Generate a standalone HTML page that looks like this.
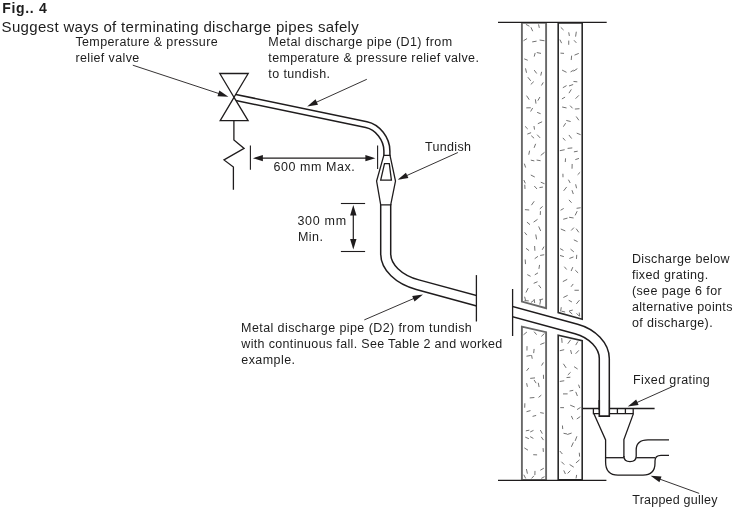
<!DOCTYPE html>
<html><head><meta charset="utf-8"><style>
html,body{margin:0;padding:0;background:#fff;}
svg{display:block;}
text{font-family:"Liberation Sans",sans-serif;fill:#1f1c1d;}
.tx{filter:grayscale(1)}
</style></head><body>
<svg width="734" height="509" viewBox="0 0 734 509">
<g>
<line x1="525.91" y1="24.40" x2="529.45" y2="26.22" stroke="#4e4e4e" stroke-width="0.8"/>
<line x1="530.93" y1="27.27" x2="532.69" y2="31.19" stroke="#4e4e4e" stroke-width="0.8"/>
<line x1="538.57" y1="24.40" x2="539.31" y2="27.88" stroke="#4e4e4e" stroke-width="0.8"/>
<line x1="527.04" y1="38.59" x2="523.50" y2="40.73" stroke="#4e4e4e" stroke-width="0.8"/>
<line x1="536.57" y1="41.17" x2="532.19" y2="41.90" stroke="#4e4e4e" stroke-width="0.8"/>
<line x1="539.59" y1="40.02" x2="544.50" y2="40.74" stroke="#4e4e4e" stroke-width="0.8"/>
<line x1="524.25" y1="58.89" x2="527.72" y2="60.24" stroke="#4e4e4e" stroke-width="0.8"/>
<line x1="535.17" y1="52.95" x2="534.21" y2="56.60" stroke="#4e4e4e" stroke-width="0.8"/>
<line x1="536.77" y1="52.55" x2="541.01" y2="53.40" stroke="#4e4e4e" stroke-width="0.8"/>
<line x1="525.50" y1="68.37" x2="526.52" y2="72.78" stroke="#4e4e4e" stroke-width="0.8"/>
<line x1="534.23" y1="70.11" x2="536.69" y2="73.49" stroke="#4e4e4e" stroke-width="0.8"/>
<line x1="541.64" y1="71.82" x2="540.74" y2="75.58" stroke="#4e4e4e" stroke-width="0.8"/>
<line x1="527.89" y1="77.22" x2="530.73" y2="80.83" stroke="#4e4e4e" stroke-width="0.8"/>
<line x1="533.77" y1="81.60" x2="530.79" y2="84.46" stroke="#4e4e4e" stroke-width="0.8"/>
<line x1="543.27" y1="82.40" x2="541.48" y2="85.48" stroke="#4e4e4e" stroke-width="0.8"/>
<line x1="526.57" y1="95.66" x2="529.23" y2="99.68" stroke="#4e4e4e" stroke-width="0.8"/>
<line x1="535.38" y1="99.29" x2="535.98" y2="103.62" stroke="#4e4e4e" stroke-width="0.8"/>
<line x1="539.93" y1="96.99" x2="537.86" y2="100.66" stroke="#4e4e4e" stroke-width="0.8"/>
<line x1="530.76" y1="107.78" x2="526.29" y2="107.87" stroke="#4e4e4e" stroke-width="0.8"/>
<line x1="532.67" y1="107.98" x2="530.61" y2="111.50" stroke="#4e4e4e" stroke-width="0.8"/>
<line x1="537.13" y1="112.37" x2="540.64" y2="113.72" stroke="#4e4e4e" stroke-width="0.8"/>
<line x1="525.08" y1="126.37" x2="527.71" y2="128.96" stroke="#4e4e4e" stroke-width="0.8"/>
<line x1="533.96" y1="126.00" x2="534.53" y2="129.58" stroke="#4e4e4e" stroke-width="0.8"/>
<line x1="542.12" y1="121.76" x2="537.82" y2="123.72" stroke="#4e4e4e" stroke-width="0.8"/>
<line x1="531.08" y1="132.66" x2="527.31" y2="134.10" stroke="#4e4e4e" stroke-width="0.8"/>
<line x1="531.28" y1="135.73" x2="534.09" y2="138.24" stroke="#4e4e4e" stroke-width="0.8"/>
<line x1="537.13" y1="134.66" x2="540.10" y2="137.89" stroke="#4e4e4e" stroke-width="0.8"/>
<line x1="529.59" y1="150.72" x2="528.76" y2="154.69" stroke="#4e4e4e" stroke-width="0.8"/>
<line x1="535.64" y1="143.84" x2="534.10" y2="147.83" stroke="#4e4e4e" stroke-width="0.8"/>
<line x1="544.50" y1="152.32" x2="540.76" y2="155.41" stroke="#4e4e4e" stroke-width="0.8"/>
<line x1="524.33" y1="163.66" x2="525.61" y2="167.54" stroke="#4e4e4e" stroke-width="0.8"/>
<line x1="530.80" y1="160.13" x2="534.32" y2="160.88" stroke="#4e4e4e" stroke-width="0.8"/>
<line x1="536.62" y1="160.05" x2="540.57" y2="160.71" stroke="#4e4e4e" stroke-width="0.8"/>
<line x1="523.83" y1="180.03" x2="525.34" y2="183.35" stroke="#4e4e4e" stroke-width="0.8"/>
<line x1="530.80" y1="175.01" x2="534.75" y2="177.00" stroke="#4e4e4e" stroke-width="0.8"/>
<line x1="540.75" y1="182.21" x2="544.50" y2="183.74" stroke="#4e4e4e" stroke-width="0.8"/>
<line x1="524.78" y1="184.76" x2="524.99" y2="188.95" stroke="#4e4e4e" stroke-width="0.8"/>
<line x1="534.27" y1="186.01" x2="536.98" y2="188.98" stroke="#4e4e4e" stroke-width="0.8"/>
<line x1="542.95" y1="187.06" x2="539.46" y2="187.60" stroke="#4e4e4e" stroke-width="0.8"/>
<line x1="524.92" y1="209.63" x2="529.22" y2="210.00" stroke="#4e4e4e" stroke-width="0.8"/>
<line x1="534.20" y1="201.25" x2="531.43" y2="205.17" stroke="#4e4e4e" stroke-width="0.8"/>
<line x1="542.64" y1="206.43" x2="539.81" y2="208.90" stroke="#4e4e4e" stroke-width="0.8"/>
<line x1="526.95" y1="222.10" x2="530.00" y2="224.67" stroke="#4e4e4e" stroke-width="0.8"/>
<line x1="537.53" y1="219.37" x2="533.62" y2="222.11" stroke="#4e4e4e" stroke-width="0.8"/>
<line x1="540.46" y1="211.15" x2="540.25" y2="214.98" stroke="#4e4e4e" stroke-width="0.8"/>
<line x1="524.61" y1="232.37" x2="526.87" y2="235.09" stroke="#4e4e4e" stroke-width="0.8"/>
<line x1="535.75" y1="234.49" x2="536.57" y2="239.35" stroke="#4e4e4e" stroke-width="0.8"/>
<line x1="538.67" y1="226.45" x2="540.70" y2="230.95" stroke="#4e4e4e" stroke-width="0.8"/>
<line x1="526.03" y1="248.34" x2="529.07" y2="250.61" stroke="#4e4e4e" stroke-width="0.8"/>
<line x1="534.60" y1="246.01" x2="534.91" y2="250.76" stroke="#4e4e4e" stroke-width="0.8"/>
<line x1="543.97" y1="246.61" x2="542.22" y2="249.79" stroke="#4e4e4e" stroke-width="0.8"/>
<line x1="525.18" y1="259.47" x2="525.50" y2="264.08" stroke="#4e4e4e" stroke-width="0.8"/>
<line x1="537.95" y1="256.35" x2="534.71" y2="258.70" stroke="#4e4e4e" stroke-width="0.8"/>
<line x1="544.20" y1="254.74" x2="540.16" y2="255.43" stroke="#4e4e4e" stroke-width="0.8"/>
<line x1="527.29" y1="274.62" x2="530.58" y2="276.30" stroke="#4e4e4e" stroke-width="0.8"/>
<line x1="537.97" y1="272.88" x2="534.79" y2="274.81" stroke="#4e4e4e" stroke-width="0.8"/>
<line x1="539.55" y1="264.91" x2="538.93" y2="268.89" stroke="#4e4e4e" stroke-width="0.8"/>
<line x1="528.19" y1="288.12" x2="525.94" y2="292.54" stroke="#4e4e4e" stroke-width="0.8"/>
<line x1="537.52" y1="281.72" x2="533.70" y2="283.34" stroke="#4e4e4e" stroke-width="0.8"/>
<line x1="538.61" y1="285.04" x2="540.96" y2="288.13" stroke="#4e4e4e" stroke-width="0.8"/>
<line x1="524.62" y1="296.72" x2="525.60" y2="300.48" stroke="#4e4e4e" stroke-width="0.8"/>
<line x1="534.15" y1="299.04" x2="534.68" y2="303.04" stroke="#4e4e4e" stroke-width="0.8"/>
<line x1="543.07" y1="298.97" x2="539.08" y2="300.02" stroke="#4e4e4e" stroke-width="0.8"/>
<line x1="524.50" y1="300.65" x2="528.78" y2="300.90" stroke="#4e4e4e" stroke-width="0.8"/>
<line x1="533.79" y1="300.41" x2="530.96" y2="302.48" stroke="#4e4e4e" stroke-width="0.8"/>
<line x1="540.61" y1="300.12" x2="539.80" y2="304.63" stroke="#4e4e4e" stroke-width="0.8"/>
<line x1="526.88" y1="332.04" x2="523.50" y2="334.76" stroke="#4e4e4e" stroke-width="0.8"/>
<line x1="534.10" y1="331.69" x2="536.60" y2="334.65" stroke="#4e4e4e" stroke-width="0.8"/>
<line x1="544.50" y1="333.43" x2="541.33" y2="336.41" stroke="#4e4e4e" stroke-width="0.8"/>
<line x1="527.03" y1="346.12" x2="526.95" y2="350.54" stroke="#4e4e4e" stroke-width="0.8"/>
<line x1="534.11" y1="348.94" x2="533.67" y2="353.10" stroke="#4e4e4e" stroke-width="0.8"/>
<line x1="544.50" y1="342.79" x2="540.29" y2="344.51" stroke="#4e4e4e" stroke-width="0.8"/>
<line x1="530.75" y1="355.45" x2="526.48" y2="356.22" stroke="#4e4e4e" stroke-width="0.8"/>
<line x1="531.55" y1="355.14" x2="532.22" y2="358.76" stroke="#4e4e4e" stroke-width="0.8"/>
<line x1="543.39" y1="362.48" x2="541.56" y2="365.59" stroke="#4e4e4e" stroke-width="0.8"/>
<line x1="528.90" y1="367.94" x2="526.55" y2="370.85" stroke="#4e4e4e" stroke-width="0.8"/>
<line x1="535.01" y1="377.89" x2="530.21" y2="378.38" stroke="#4e4e4e" stroke-width="0.8"/>
<line x1="543.41" y1="374.79" x2="543.57" y2="378.89" stroke="#4e4e4e" stroke-width="0.8"/>
<line x1="526.61" y1="383.18" x2="527.41" y2="386.84" stroke="#4e4e4e" stroke-width="0.8"/>
<line x1="534.08" y1="379.96" x2="536.12" y2="383.16" stroke="#4e4e4e" stroke-width="0.8"/>
<line x1="538.28" y1="382.80" x2="539.09" y2="387.06" stroke="#4e4e4e" stroke-width="0.8"/>
<line x1="524.86" y1="403.27" x2="524.69" y2="407.71" stroke="#4e4e4e" stroke-width="0.8"/>
<line x1="534.38" y1="397.51" x2="529.71" y2="397.93" stroke="#4e4e4e" stroke-width="0.8"/>
<line x1="541.30" y1="395.11" x2="538.56" y2="397.39" stroke="#4e4e4e" stroke-width="0.8"/>
<line x1="530.50" y1="410.58" x2="526.52" y2="411.71" stroke="#4e4e4e" stroke-width="0.8"/>
<line x1="536.15" y1="415.45" x2="532.55" y2="416.38" stroke="#4e4e4e" stroke-width="0.8"/>
<line x1="540.21" y1="412.62" x2="543.79" y2="413.27" stroke="#4e4e4e" stroke-width="0.8"/>
<line x1="529.37" y1="430.16" x2="525.83" y2="430.85" stroke="#4e4e4e" stroke-width="0.8"/>
<line x1="533.49" y1="430.38" x2="530.23" y2="431.96" stroke="#4e4e4e" stroke-width="0.8"/>
<line x1="540.32" y1="430.03" x2="542.34" y2="433.69" stroke="#4e4e4e" stroke-width="0.8"/>
<line x1="525.27" y1="437.15" x2="528.86" y2="438.70" stroke="#4e4e4e" stroke-width="0.8"/>
<line x1="530.17" y1="436.64" x2="533.38" y2="438.42" stroke="#4e4e4e" stroke-width="0.8"/>
<line x1="541.21" y1="436.86" x2="543.49" y2="440.10" stroke="#4e4e4e" stroke-width="0.8"/>
<line x1="524.37" y1="447.92" x2="527.98" y2="450.17" stroke="#4e4e4e" stroke-width="0.8"/>
<line x1="533.22" y1="454.71" x2="537.09" y2="454.89" stroke="#4e4e4e" stroke-width="0.8"/>
<line x1="543.07" y1="448.11" x2="543.37" y2="451.88" stroke="#4e4e4e" stroke-width="0.8"/>
<line x1="526.41" y1="469.05" x2="527.41" y2="473.67" stroke="#4e4e4e" stroke-width="0.8"/>
<line x1="534.97" y1="470.92" x2="534.89" y2="475.00" stroke="#4e4e4e" stroke-width="0.8"/>
<line x1="543.82" y1="468.21" x2="540.35" y2="470.23" stroke="#4e4e4e" stroke-width="0.8"/>
<line x1="523.78" y1="474.76" x2="525.68" y2="478.40" stroke="#4e4e4e" stroke-width="0.8"/>
<line x1="534.03" y1="475.78" x2="531.55" y2="478.40" stroke="#4e4e4e" stroke-width="0.8"/>
<line x1="544.49" y1="476.67" x2="541.31" y2="478.40" stroke="#4e4e4e" stroke-width="0.8"/>
<line x1="560.77" y1="27.36" x2="563.61" y2="30.06" stroke="#4e4e4e" stroke-width="0.8"/>
<line x1="568.72" y1="32.30" x2="569.36" y2="35.98" stroke="#4e4e4e" stroke-width="0.8"/>
<line x1="576.31" y1="31.73" x2="575.58" y2="36.63" stroke="#4e4e4e" stroke-width="0.8"/>
<line x1="559.89" y1="39.59" x2="561.62" y2="43.16" stroke="#4e4e4e" stroke-width="0.8"/>
<line x1="568.75" y1="40.60" x2="568.72" y2="44.81" stroke="#4e4e4e" stroke-width="0.8"/>
<line x1="574.01" y1="40.27" x2="576.37" y2="42.86" stroke="#4e4e4e" stroke-width="0.8"/>
<line x1="560.46" y1="53.14" x2="564.02" y2="53.39" stroke="#4e4e4e" stroke-width="0.8"/>
<line x1="571.63" y1="55.67" x2="571.23" y2="60.03" stroke="#4e4e4e" stroke-width="0.8"/>
<line x1="578.78" y1="53.42" x2="574.53" y2="55.12" stroke="#4e4e4e" stroke-width="0.8"/>
<line x1="562.08" y1="70.07" x2="566.52" y2="72.32" stroke="#4e4e4e" stroke-width="0.8"/>
<line x1="573.67" y1="70.14" x2="570.57" y2="71.91" stroke="#4e4e4e" stroke-width="0.8"/>
<line x1="577.34" y1="68.63" x2="573.52" y2="71.19" stroke="#4e4e4e" stroke-width="0.8"/>
<line x1="566.54" y1="85.62" x2="562.84" y2="87.73" stroke="#4e4e4e" stroke-width="0.8"/>
<line x1="573.16" y1="84.52" x2="569.03" y2="85.96" stroke="#4e4e4e" stroke-width="0.8"/>
<line x1="573.49" y1="81.46" x2="577.32" y2="81.83" stroke="#4e4e4e" stroke-width="0.8"/>
<line x1="565.08" y1="97.13" x2="561.90" y2="98.93" stroke="#4e4e4e" stroke-width="0.8"/>
<line x1="571.34" y1="89.41" x2="568.95" y2="93.16" stroke="#4e4e4e" stroke-width="0.8"/>
<line x1="578.87" y1="95.36" x2="575.56" y2="98.70" stroke="#4e4e4e" stroke-width="0.8"/>
<line x1="562.16" y1="107.01" x2="566.56" y2="107.94" stroke="#4e4e4e" stroke-width="0.8"/>
<line x1="570.11" y1="105.63" x2="572.54" y2="108.30" stroke="#4e4e4e" stroke-width="0.8"/>
<line x1="579.47" y1="108.71" x2="574.87" y2="109.06" stroke="#4e4e4e" stroke-width="0.8"/>
<line x1="565.66" y1="123.15" x2="563.36" y2="126.68" stroke="#4e4e4e" stroke-width="0.8"/>
<line x1="566.31" y1="120.45" x2="570.64" y2="121.53" stroke="#4e4e4e" stroke-width="0.8"/>
<line x1="576.20" y1="116.50" x2="578.86" y2="120.27" stroke="#4e4e4e" stroke-width="0.8"/>
<line x1="562.85" y1="137.88" x2="565.24" y2="140.57" stroke="#4e4e4e" stroke-width="0.8"/>
<line x1="568.90" y1="134.98" x2="571.66" y2="138.56" stroke="#4e4e4e" stroke-width="0.8"/>
<line x1="576.69" y1="133.14" x2="580.60" y2="134.67" stroke="#4e4e4e" stroke-width="0.8"/>
<line x1="564.67" y1="149.71" x2="559.80" y2="150.70" stroke="#4e4e4e" stroke-width="0.8"/>
<line x1="572.31" y1="147.91" x2="567.60" y2="148.39" stroke="#4e4e4e" stroke-width="0.8"/>
<line x1="577.66" y1="151.21" x2="573.90" y2="151.85" stroke="#4e4e4e" stroke-width="0.8"/>
<line x1="565.56" y1="158.33" x2="565.28" y2="162.03" stroke="#4e4e4e" stroke-width="0.8"/>
<line x1="572.16" y1="163.98" x2="572.03" y2="168.71" stroke="#4e4e4e" stroke-width="0.8"/>
<line x1="578.96" y1="158.41" x2="575.31" y2="159.63" stroke="#4e4e4e" stroke-width="0.8"/>
<line x1="562.91" y1="173.76" x2="563.00" y2="177.26" stroke="#4e4e4e" stroke-width="0.8"/>
<line x1="568.43" y1="179.69" x2="570.17" y2="182.96" stroke="#4e4e4e" stroke-width="0.8"/>
<line x1="580.10" y1="172.31" x2="577.62" y2="174.78" stroke="#4e4e4e" stroke-width="0.8"/>
<line x1="566.68" y1="186.96" x2="563.65" y2="190.80" stroke="#4e4e4e" stroke-width="0.8"/>
<line x1="571.97" y1="190.20" x2="573.31" y2="194.03" stroke="#4e4e4e" stroke-width="0.8"/>
<line x1="575.65" y1="184.30" x2="576.55" y2="188.24" stroke="#4e4e4e" stroke-width="0.8"/>
<line x1="563.73" y1="208.45" x2="560.56" y2="210.26" stroke="#4e4e4e" stroke-width="0.8"/>
<line x1="568.95" y1="199.86" x2="571.55" y2="202.74" stroke="#4e4e4e" stroke-width="0.8"/>
<line x1="580.60" y1="207.74" x2="576.58" y2="208.30" stroke="#4e4e4e" stroke-width="0.8"/>
<line x1="567.50" y1="218.08" x2="563.22" y2="219.28" stroke="#4e4e4e" stroke-width="0.8"/>
<line x1="569.08" y1="217.26" x2="573.60" y2="217.97" stroke="#4e4e4e" stroke-width="0.8"/>
<line x1="577.17" y1="211.20" x2="575.14" y2="215.36" stroke="#4e4e4e" stroke-width="0.8"/>
<line x1="560.81" y1="229.01" x2="565.32" y2="230.91" stroke="#4e4e4e" stroke-width="0.8"/>
<line x1="573.88" y1="227.62" x2="571.19" y2="230.50" stroke="#4e4e4e" stroke-width="0.8"/>
<line x1="576.17" y1="228.69" x2="578.79" y2="232.33" stroke="#4e4e4e" stroke-width="0.8"/>
<line x1="560.13" y1="248.62" x2="563.41" y2="250.45" stroke="#4e4e4e" stroke-width="0.8"/>
<line x1="570.56" y1="249.16" x2="573.83" y2="251.87" stroke="#4e4e4e" stroke-width="0.8"/>
<line x1="573.80" y1="239.84" x2="577.58" y2="241.62" stroke="#4e4e4e" stroke-width="0.8"/>
<line x1="560.00" y1="255.47" x2="563.85" y2="256.61" stroke="#4e4e4e" stroke-width="0.8"/>
<line x1="573.47" y1="256.95" x2="569.38" y2="258.46" stroke="#4e4e4e" stroke-width="0.8"/>
<line x1="576.75" y1="254.85" x2="576.44" y2="258.96" stroke="#4e4e4e" stroke-width="0.8"/>
<line x1="564.34" y1="266.73" x2="566.65" y2="269.48" stroke="#4e4e4e" stroke-width="0.8"/>
<line x1="572.82" y1="267.13" x2="571.14" y2="271.04" stroke="#4e4e4e" stroke-width="0.8"/>
<line x1="575.32" y1="270.19" x2="578.10" y2="272.94" stroke="#4e4e4e" stroke-width="0.8"/>
<line x1="567.22" y1="279.36" x2="562.84" y2="281.61" stroke="#4e4e4e" stroke-width="0.8"/>
<line x1="573.22" y1="283.96" x2="571.05" y2="286.76" stroke="#4e4e4e" stroke-width="0.8"/>
<line x1="574.48" y1="290.26" x2="578.86" y2="290.26" stroke="#4e4e4e" stroke-width="0.8"/>
<line x1="567.64" y1="295.39" x2="563.38" y2="297.47" stroke="#4e4e4e" stroke-width="0.8"/>
<line x1="568.69" y1="300.26" x2="571.93" y2="301.97" stroke="#4e4e4e" stroke-width="0.8"/>
<line x1="579.50" y1="300.13" x2="576.35" y2="303.89" stroke="#4e4e4e" stroke-width="0.8"/>
<line x1="561.28" y1="307.22" x2="560.61" y2="311.35" stroke="#4e4e4e" stroke-width="0.8"/>
<line x1="572.78" y1="310.05" x2="569.05" y2="311.01" stroke="#4e4e4e" stroke-width="0.8"/>
<line x1="576.57" y1="313.38" x2="579.17" y2="316.01" stroke="#4e4e4e" stroke-width="0.8"/>
<line x1="561.53" y1="311.20" x2="565.11" y2="312.01" stroke="#4e4e4e" stroke-width="0.8"/>
<line x1="569.14" y1="311.40" x2="572.25" y2="314.04" stroke="#4e4e4e" stroke-width="0.8"/>
<line x1="579.21" y1="312.52" x2="579.69" y2="316.44" stroke="#4e4e4e" stroke-width="0.8"/>
<line x1="561.71" y1="338.05" x2="562.09" y2="342.86" stroke="#4e4e4e" stroke-width="0.8"/>
<line x1="570.74" y1="339.74" x2="567.78" y2="343.70" stroke="#4e4e4e" stroke-width="0.8"/>
<line x1="577.91" y1="341.48" x2="575.70" y2="345.11" stroke="#4e4e4e" stroke-width="0.8"/>
<line x1="564.18" y1="349.69" x2="559.80" y2="350.74" stroke="#4e4e4e" stroke-width="0.8"/>
<line x1="570.60" y1="350.05" x2="571.59" y2="353.93" stroke="#4e4e4e" stroke-width="0.8"/>
<line x1="578.83" y1="350.35" x2="575.62" y2="353.78" stroke="#4e4e4e" stroke-width="0.8"/>
<line x1="563.39" y1="363.79" x2="566.15" y2="367.90" stroke="#4e4e4e" stroke-width="0.8"/>
<line x1="570.59" y1="372.32" x2="567.80" y2="374.94" stroke="#4e4e4e" stroke-width="0.8"/>
<line x1="574.08" y1="366.68" x2="577.61" y2="369.03" stroke="#4e4e4e" stroke-width="0.8"/>
<line x1="564.24" y1="380.74" x2="559.80" y2="381.46" stroke="#4e4e4e" stroke-width="0.8"/>
<line x1="570.35" y1="377.25" x2="566.54" y2="377.56" stroke="#4e4e4e" stroke-width="0.8"/>
<line x1="578.56" y1="384.70" x2="579.74" y2="388.09" stroke="#4e4e4e" stroke-width="0.8"/>
<line x1="567.61" y1="393.89" x2="563.02" y2="393.92" stroke="#4e4e4e" stroke-width="0.8"/>
<line x1="573.26" y1="390.32" x2="569.56" y2="391.07" stroke="#4e4e4e" stroke-width="0.8"/>
<line x1="575.75" y1="391.85" x2="577.42" y2="396.02" stroke="#4e4e4e" stroke-width="0.8"/>
<line x1="560.24" y1="407.63" x2="564.00" y2="407.66" stroke="#4e4e4e" stroke-width="0.8"/>
<line x1="570.19" y1="405.16" x2="574.76" y2="407.02" stroke="#4e4e4e" stroke-width="0.8"/>
<line x1="580.49" y1="407.45" x2="577.07" y2="409.59" stroke="#4e4e4e" stroke-width="0.8"/>
<line x1="562.43" y1="425.50" x2="562.73" y2="429.06" stroke="#4e4e4e" stroke-width="0.8"/>
<line x1="571.36" y1="415.95" x2="572.93" y2="419.40" stroke="#4e4e4e" stroke-width="0.8"/>
<line x1="580.22" y1="416.64" x2="576.80" y2="418.94" stroke="#4e4e4e" stroke-width="0.8"/>
<line x1="563.52" y1="433.28" x2="567.00" y2="433.97" stroke="#4e4e4e" stroke-width="0.8"/>
<line x1="571.61" y1="433.07" x2="567.22" y2="434.51" stroke="#4e4e4e" stroke-width="0.8"/>
<line x1="576.92" y1="436.29" x2="575.15" y2="440.89" stroke="#4e4e4e" stroke-width="0.8"/>
<line x1="559.80" y1="451.00" x2="562.38" y2="454.02" stroke="#4e4e4e" stroke-width="0.8"/>
<line x1="573.37" y1="442.39" x2="571.38" y2="446.84" stroke="#4e4e4e" stroke-width="0.8"/>
<line x1="579.29" y1="452.73" x2="579.59" y2="456.57" stroke="#4e4e4e" stroke-width="0.8"/>
<line x1="561.42" y1="461.73" x2="564.29" y2="464.63" stroke="#4e4e4e" stroke-width="0.8"/>
<line x1="569.63" y1="464.50" x2="573.74" y2="467.16" stroke="#4e4e4e" stroke-width="0.8"/>
<line x1="579.51" y1="459.84" x2="575.94" y2="462.94" stroke="#4e4e4e" stroke-width="0.8"/>
<line x1="563.75" y1="470.40" x2="565.42" y2="474.01" stroke="#4e4e4e" stroke-width="0.8"/>
<line x1="570.32" y1="470.72" x2="567.61" y2="473.38" stroke="#4e4e4e" stroke-width="0.8"/>
<line x1="576.64" y1="474.90" x2="576.05" y2="478.40" stroke="#4e4e4e" stroke-width="0.8"/>
</g>
<polygon points="521.90,22.90 521.90,301.60 546.10,308.26 546.10,22.90" fill="none" stroke="#686868" stroke-width="1.9" stroke-linejoin="miter" />
<polygon points="521.90,479.90 521.90,326.60 546.10,332.17 546.10,479.90" fill="none" stroke="#686868" stroke-width="1.9" stroke-linejoin="miter" />
<polygon points="558.20,22.90 558.20,312.60 582.20,319.20 582.20,22.90" fill="none" stroke="#2a2a2a" stroke-width="1.6" stroke-linejoin="miter" />
<polygon points="558.20,479.90 558.20,335.20 582.20,340.72 582.20,479.90" fill="none" stroke="#2a2a2a" stroke-width="1.6" stroke-linejoin="miter" />
<line x1="498.00" y1="22.40" x2="606.70" y2="22.40" stroke="#1f1c1d" stroke-width="1.2"/>
<line x1="498.00" y1="480.40" x2="606.40" y2="480.40" stroke="#1f1c1d" stroke-width="1.2"/>
<path d="M234.00,97.10 L366.34,124.63 C377.65,126.98 386.90,138.80 386.90,150.90 L386.90,156.00" fill="none" stroke="#1f1c1d" stroke-width="7.50" stroke-linecap="butt"/>
<path d="M234.00,97.10 L366.34,124.63 C377.65,126.98 386.90,138.80 386.90,150.90 L386.90,156.00" fill="none" stroke="#fff" stroke-width="4.50" stroke-linecap="butt"/>
<path d="M385.70,204.00 L385.70,253.63 C385.70,267.07 398.44,279.49 417.54,284.69 L500.00,307.12" fill="none" stroke="#1f1c1d" stroke-width="11.50" stroke-linecap="butt"/>
<path d="M385.70,204.00 L385.70,253.63 C385.70,267.07 398.44,279.49 417.54,284.69 L500.00,307.12" fill="none" stroke="#fff" stroke-width="8.50" stroke-linecap="butt"/>
<path d="M500.00,308.22 L576.32,328.98 C592.55,333.39 604.30,345.83 604.30,358.59 L604.30,410.00" fill="none" stroke="#1f1c1d" stroke-width="11.50" stroke-linecap="butt"/>
<path d="M500.00,308.22 L576.32,328.98 C592.55,333.39 604.30,345.83 604.30,358.59 L604.30,410.00" fill="none" stroke="#fff" stroke-width="8.50" stroke-linecap="butt"/>
<rect x="477.0" y="270" width="35.0" height="60" fill="#fff"/>
<line x1="476.40" y1="275.10" x2="476.40" y2="321.50" stroke="#1f1c1d" stroke-width="1.3"/>
<line x1="512.60" y1="289.00" x2="512.60" y2="336.00" stroke="#1f1c1d" stroke-width="1.3"/>
<polygon points="383.80,155.30 376.60,181.10 380.70,204.90 390.70,204.90 395.50,181.10 390.00,155.30" fill="#fff" stroke="#1f1c1d" stroke-width="1.3" stroke-linejoin="miter" />
<polygon points="384.50,163.60 380.70,180.10 391.40,180.10 389.30,163.60" fill="#fff" stroke="#1f1c1d" stroke-width="1.3" stroke-linejoin="miter" />
<polygon points="219.80,73.50 248.20,73.50 234.00,97.30" fill="#fff" stroke="#1f1c1d" stroke-width="1.3" stroke-linejoin="miter" />
<polygon points="234.00,97.30 220.20,120.60 248.10,120.60" fill="#fff" stroke="#1f1c1d" stroke-width="1.3" stroke-linejoin="miter" />
<polyline points="233.90,120.60 233.90,139.90 244.10,148.40 224.00,159.90 233.40,167.00 233.40,189.80" fill="none" stroke="#1f1c1d" stroke-width="1.3" stroke-linejoin="miter" />
<line x1="250.40" y1="145.50" x2="250.40" y2="169.70" stroke="#1f1c1d" stroke-width="1.1"/>
<line x1="377.60" y1="145.50" x2="377.60" y2="169.00" stroke="#1f1c1d" stroke-width="1.1"/>
<line x1="314.00" y1="158.20" x2="261.90" y2="158.20" stroke="#1f1c1d" stroke-width="1.3"/>
<polygon points="252.90,158.20 262.90,155.10 262.90,161.30" fill="#1f1c1d"/>
<line x1="314.00" y1="158.20" x2="366.40" y2="158.20" stroke="#1f1c1d" stroke-width="1.3"/>
<polygon points="375.40,158.20 365.40,161.30 365.40,155.10" fill="#1f1c1d"/>
<line x1="340.90" y1="203.50" x2="365.10" y2="203.50" stroke="#1f1c1d" stroke-width="1.1"/>
<line x1="340.90" y1="251.50" x2="365.10" y2="251.50" stroke="#1f1c1d" stroke-width="1.1"/>
<line x1="353.30" y1="228.00" x2="353.30" y2="214.50" stroke="#1f1c1d" stroke-width="1.2"/>
<polygon points="353.30,205.00 356.50,215.50 350.10,215.50" fill="#1f1c1d"/>
<line x1="353.30" y1="228.00" x2="353.30" y2="240.10" stroke="#1f1c1d" stroke-width="1.2"/>
<polygon points="353.30,249.60 350.10,239.10 356.50,239.10" fill="#1f1c1d"/>
<line x1="582.50" y1="408.50" x2="654.60" y2="408.50" stroke="#1f1c1d" stroke-width="1.3"/>
<polyline points="593.40,408.50 593.40,413.70 633.20,413.70 633.20,408.50" fill="none" stroke="#1f1c1d" stroke-width="1.3" stroke-linejoin="miter" />
<line x1="617.40" y1="408.50" x2="617.40" y2="413.70" stroke="#1f1c1d" stroke-width="1.3"/>
<line x1="625.40" y1="408.50" x2="625.40" y2="413.70" stroke="#1f1c1d" stroke-width="1.3"/>
<path d="M599.3,400 L599.3,416.1 L609.3,416.1 L609.3,400" fill="#fff" stroke="#1f1c1d" stroke-width="1.6"/>
<polyline points="593.80,413.60 605.60,440.00 605.60,457.70" fill="none" stroke="#1f1c1d" stroke-width="1.3" stroke-linejoin="miter" />
<polyline points="633.40,413.60 623.90,439.60 623.90,457.10" fill="none" stroke="#1f1c1d" stroke-width="1.3" stroke-linejoin="miter" />
<path d="M605.6,457 L605.6,462 Q605.6,475.1 618,475.1 L643,475.1 Q655,475.1 655,463 L655,461 Q655,455.3 661,455.3 L669,455.3" fill="none" stroke="#1f1c1d" stroke-width="1.3"/>
<path d="M623.9,456 Q623.9,461.6 630,461.6 Q636.2,461.6 636.2,456 L636.2,450 Q636.2,439.8 648,439.8 L669,439.8" fill="none" stroke="#1f1c1d" stroke-width="1.3"/>
<line x1="605.60" y1="457.70" x2="623.90" y2="457.70" stroke="#1f1c1d" stroke-width="1.3"/>
<line x1="636.20" y1="457.70" x2="655.00" y2="457.70" stroke="#1f1c1d" stroke-width="1.3"/>
<line x1="132.80" y1="65.20" x2="219.38" y2="93.73" stroke="#1f1c1d" stroke-width="0.9"/>
<polygon points="228.40,96.70 217.49,96.26 219.37,90.56" fill="#1f1c1d"/>
<line x1="366.80" y1="79.30" x2="315.85" y2="102.47" stroke="#1f1c1d" stroke-width="0.9"/>
<polygon points="307.20,106.40 315.52,99.32 318.00,104.78" fill="#1f1c1d"/>
<line x1="457.90" y1="152.50" x2="406.26" y2="175.79" stroke="#1f1c1d" stroke-width="0.9"/>
<polygon points="397.60,179.70 405.94,172.65 408.40,178.12" fill="#1f1c1d"/>
<line x1="364.30" y1="319.90" x2="414.28" y2="298.27" stroke="#1f1c1d" stroke-width="0.9"/>
<polygon points="423.00,294.50 414.55,301.42 412.17,295.92" fill="#1f1c1d"/>
<line x1="672.80" y1="386.40" x2="636.47" y2="402.71" stroke="#1f1c1d" stroke-width="0.9"/>
<polygon points="627.80,406.60 636.15,399.56 638.61,405.04" fill="#1f1c1d"/>
<line x1="699.20" y1="493.40" x2="659.53" y2="479.03" stroke="#1f1c1d" stroke-width="0.9"/>
<polygon points="650.60,475.80 661.49,476.55 659.45,482.20" fill="#1f1c1d"/>
<g class="tx">
<text x="2.2" y="12.8" font-size="14" font-weight="bold" letter-spacing="0.7">Fig.. 4</text>
<text x="1.6" y="32" font-size="15" font-weight="normal" letter-spacing="0.33">Suggest ways of terminating discharge pipes safely</text>
<text x="75.4" y="45.7" font-size="12.5" font-weight="normal" letter-spacing="0.39">Temperature &amp; pressure</text>
<text x="75.4" y="61.6" font-size="12.5" font-weight="normal" letter-spacing="0.37">relief valve</text>
<text x="268.3" y="45.75" font-size="12.5" font-weight="normal" letter-spacing="0.42">Metal discharge pipe (D1) from</text>
<text x="268.3" y="61.6" font-size="12.5" font-weight="normal" letter-spacing="0.36">temperature &amp; pressure relief valve.</text>
<text x="268.3" y="78" font-size="12.5" font-weight="normal" letter-spacing="0.4">to tundish.</text>
<text x="425.0" y="150.8" font-size="12.5" font-weight="normal" letter-spacing="0.32">Tundish</text>
<text x="273.6" y="171.1" font-size="12.5" font-weight="normal" letter-spacing="0.55">600 mm Max.</text>
<text x="297.4" y="224.6" font-size="12.5" font-weight="normal" letter-spacing="0.7">300 mm</text>
<text x="297.9" y="240.8" font-size="12.5" font-weight="normal" letter-spacing="0.45">Min.</text>
<text x="241.1" y="331.6" font-size="12.5" font-weight="normal" letter-spacing="0.415">Metal discharge pipe (D2) from tundish</text>
<text x="241.3" y="347.6" font-size="12.5" font-weight="normal" letter-spacing="0.337">with continuous fall. See Table 2 and worked</text>
<text x="241.3" y="364" font-size="12.5" font-weight="normal" letter-spacing="0.43">example.</text>
<text x="631.9" y="263" font-size="12.5" font-weight="normal" letter-spacing="0.38">Discharge below</text>
<text x="631.9" y="279" font-size="12.5" font-weight="normal" letter-spacing="0.36">fixed grating.</text>
<text x="631.9" y="295" font-size="12.5" font-weight="normal" letter-spacing="0.41">(see page 6 for</text>
<text x="631.9" y="311" font-size="12.5" font-weight="normal" letter-spacing="0.353">alternative points</text>
<text x="631.9" y="327" font-size="12.5" font-weight="normal" letter-spacing="0.385">of discharge).</text>
<text x="633.0" y="383.8" font-size="12.5" font-weight="normal" letter-spacing="0.38">Fixed grating</text>
<text x="632.3" y="503.5" font-size="12.5" font-weight="normal" letter-spacing="0.22">Trapped gulley</text>
</g>
</svg>
</body></html>
